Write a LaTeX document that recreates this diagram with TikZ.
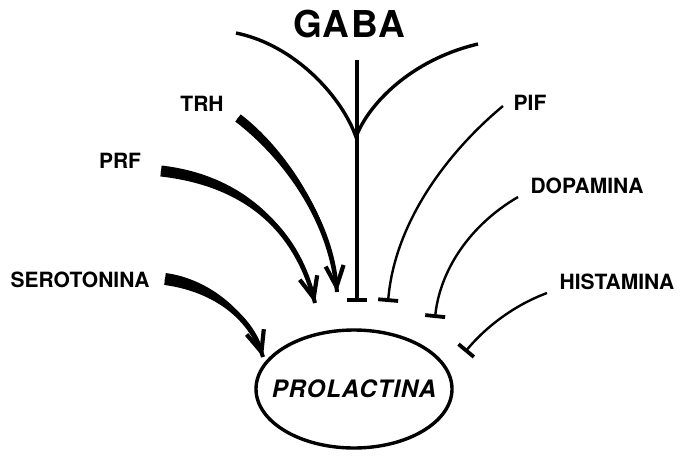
\documentclass[tikz,border=0pt]{standalone}
\usepackage{fontspec}
\setmainfont{TeX Gyre Heros}
\newfontfamily\spacedfont[LetterSpace=4]{TeX Gyre Heros}
\usepackage{tikz}
\usetikzlibrary{arrows.meta, calc}

\tikzset{
  agent/.style={font=\fontsize{21}{21}\selectfont\bfseries, inner sep=0pt},
  inhib/.style={line width=2.4pt, -{Bar[width=20pt,line width=3.8pt]}},
  stim/.style={line width=4pt, -{Straight Barb[length=21pt,width=18pt,line width=4.2pt]}},
}

\begin{document}
\begin{tikzpicture}[x=1pt,y=-1pt]
  %% 1 unit = 1 px of the 685 x 458 sheet, y pointing down
  \useasboundingbox[fill=white] (0,0) rectangle (685,458);

  % Hormone in the middle
  \node[inner sep=0pt,font=\fontsize{24}{24}\spacedfont\bfseries\itshape]
    (prl) at (354,389) {PROLACTINA};
  \draw[line width=3.4pt] (prl) ellipse [x radius=98, y radius=59];

  % Labels
  \node[inner sep=0pt,font=\fontsize{37}{37}\spacedfont\bfseries] (gaba) at (349,24) {GABA};
  \node[agent] (trh)  at (202,104) {TRH};
  \node[agent] (prf)  at (120,161) {PRF};
  \node[agent] (sero) at (80,280)  {SEROTONINA};
  \node[agent] (pif)  at (530,103) {PIF};
  \node[agent] (dopa) at (587,186) {DOPAMINA};
  \node[agent] (hist) at (617,282) {HISTAMINA};

  % Start, control and end points of the stimulating arrows
  \coordinate (trh-s)  at (238,118); \coordinate (trh-a)  at (280,150);
  \coordinate (trh-b)  at (330,215); \coordinate (trh-e)  at (337,292);
  \coordinate (prf-s)  at (161,171); \coordinate (prf-a)  at (240,180);
  \coordinate (prf-b)  at (295,225); \coordinate (prf-e)  at (315,303);
  \coordinate (sero-s) at (165,279); \coordinate (sero-a) at (210,285);
  \coordinate (sero-b) at (250,315); \coordinate (sero-e) at (263,357);

  % Tapered thick arrows (width at the start / width at the tip)
  \foreach \n/\w in {trh/9, prf/11, sero/12}{
    \fill ($(\n-s)!\w*0.5pt!90:(\n-a)$)
      .. controls ($(\n-a)!\w*0.5pt!-90:(\n-s)$) and ($(\n-b)!2pt!90:(\n-e)$)
      .. ($(\n-e)!2pt!-90:(\n-b)$)
      -- ($(\n-e)!2pt!90:(\n-b)$)
      .. controls ($(\n-b)!2pt!-90:(\n-e)$) and ($(\n-a)!\w*0.5pt!90:(\n-s)$)
      .. ($(\n-s)!\w*0.5pt!-90:(\n-a)$) -- cycle;
    \draw[stim] (\n-s) .. controls (\n-a) and (\n-b) .. (\n-e);
  }

  % GABA fork and its inhibiting stem
  \coordinate (fork) at (356,137);
  \coordinate (gaba-l) at (236,33);
  \coordinate (gaba-r) at (478,44);
  \coordinate (gaba-t) at (357,60);
  \coordinate (gaba-e) at (357,302);
  \draw[line width=3.4pt] (gaba-l) .. controls (295,45) and (342,97) .. (fork)
    .. controls (368,105) and (410,60) .. (gaba-r);
  \draw[inhib,line width=3.4pt] (gaba-t) -- (gaba-e);

  % Inhibiting lines
  \coordinate (pif-s)  at (503,106); \coordinate (pif-e)  at (388,302);
  \coordinate (dopa-s) at (518,197); \coordinate (dopa-e) at (435,318);
  \coordinate (hist-s) at (547,293); \coordinate (hist-e) at (465,352);
  \draw[inhib] (pif-s)  .. controls (450,150) and (395,220) .. (pif-e);
  \draw[inhib] (dopa-s) .. controls (470,225) and (440,270) .. (dopa-e);
  \draw[inhib] (hist-s) .. controls (520,303) and (490,322) .. (hist-e);
\end{tikzpicture}
\end{document}
